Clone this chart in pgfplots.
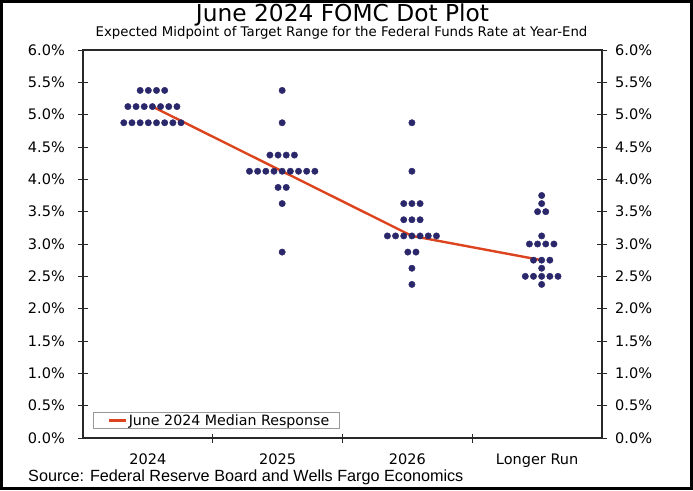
\documentclass[border=0pt]{standalone}
\usepackage{pgfplots}
\pgfplotsset{compat=1.18}
\usepackage{fontspec}
\setmainfont{DejaVu Sans}
\newfontfamily\arialf{Liberation Sans}
\definecolor{dotc}{RGB}{43,39,107}
\definecolor{linec}{RGB}{220,68,32}
\definecolor{axc}{RGB}{40,40,40}
\pgfplotsset{shortline/.style={legend image code/.code={\path (-6pt,0pt); \draw[##1] (0pt,0pt) -- (17pt,0pt);}}}
\begin{document}
\begin{tikzpicture}
\useasboundingbox (0pt,0pt) rectangle (693pt,490pt);
\draw[line width=2.6pt,black] (1.3pt,1.3pt) rectangle (691.7pt,488.7pt);
\node[anchor=base,font=\fontsize{23.3}{27}\selectfont] at (342.5pt,468pt) {June 2024 FOMC Dot Plot};
\node[anchor=base,font=\fontsize{13.3}{16}\selectfont] at (341.5pt,453pt) {Expected Midpoint of Target Range for the Federal Funds Rate at Year-End};
\node[anchor=base west,inner sep=0pt,font=\arialf\fontsize{16.2}{19}\selectfont] at (28pt,9pt) {Source: Federal Reserve Board and Wells Fargo Economics};
\begin{axis}[
  at={(83pt,52pt)}, anchor=south west,
  scale only axis, width=519pt, height=388pt,
  xmin=-0.5, xmax=3.5, ymin=0, ymax=6,
  axis line style={axc, line width=1.1pt},
  xtick={0,1,2,3},
  xticklabels={2024,2025,2026,Longer Run},
  minor xtick={0.5,1.5,2.5},
  major x tick style={draw=none},
  xtick pos=left,
  tick align=center,
  major tick length=10pt, minor tick length=9pt,
  tick style={axc, line width=0.8pt},
  xticklabel style={anchor=base, yshift=-21pt, inner sep=0pt, font=\fontsize{14.5}{17}\selectfont},
  ytick={0,0.5,1,1.5,2,2.5,3,3.5,4,4.5,5,5.5,6},
  yticklabels={0.0\%,0.5\%,1.0\%,1.5\%,2.0\%,2.5\%,3.0\%,3.5\%,4.0\%,4.5\%,5.0\%,5.5\%,6.0\%},
  ytick pos=both,
  yticklabel pos=left,
  yticklabel style={anchor=east, inner sep=0pt, xshift=-13pt, font=\fontsize{14.5}{17}\selectfont},
  legend style={at={(0,0)}, anchor=south west, xshift=10pt, yshift=9pt,
    draw=gray!80, line width=0.8pt, font=\fontsize{14.2}{16}\selectfont,
    inner xsep=8pt, inner ysep=0pt, row sep=0pt},
  legend cell align=left,
  clip=false,
]
\addplot[only marks, mark=*, mark size=3.2pt, color=dotc, forget plot] coordinates {
(-0.0595,5.375) (0.0035,5.375) (0.0665,5.375) (0.1295,5.375)
(-0.154,5.125) (-0.091,5.125) (-0.028,5.125) (0.035,5.125) (0.098,5.125) (0.161,5.125) (0.224,5.125)
(-0.1855,4.875) (-0.1225,4.875) (-0.0595,4.875) (0.0035,4.875) (0.0665,4.875) (0.1295,4.875) (0.1925,4.875) (0.2555,4.875)
(1.035,5.375)
(1.035,4.875)
(0.9405,4.375) (1.0035,4.375) (1.0665,4.375) (1.1295,4.375)
(0.783,4.125) (0.846,4.125) (0.909,4.125) (0.972,4.125) (1.035,4.125) (1.098,4.125) (1.161,4.125) (1.224,4.125) (1.287,4.125)
(1.0035,3.875) (1.0665,3.875)
(1.035,3.625)
(1.035,2.875)
(2.035,4.875)
(2.035,4.125)
(1.972,3.625) (2.035,3.625) (2.098,3.625)
(1.972,3.375) (2.035,3.375) (2.098,3.375)
(1.846,3.125) (1.909,3.125) (1.972,3.125) (2.035,3.125) (2.098,3.125) (2.161,3.125) (2.224,3.125)
(2.0035,2.875) (2.0665,2.875)
(2.035,2.625)
(2.035,2.375)
(3.035,3.75)
(3.035,3.625)
(3.0035,3.5) (3.0665,3.5)
(3.035,3.125)
(2.9405,3.0) (3.0035,3.0) (3.0665,3.0) (3.1295,3.0)
(2.972,2.75) (3.035,2.75) (3.098,2.75)
(3.035,2.625)
(2.909,2.5) (2.972,2.5) (3.035,2.5) (3.098,2.5) (3.161,2.5)
(3.035,2.375)
};
\addplot[color=linec, line width=2.4pt, no marks, shortline]
  coordinates {(0.035,5.125) (1.035,4.125) (2.035,3.125) (3.035,2.75)};
\addlegendentry{June 2024 Median Response}
\end{axis}
\begin{axis}[
  at={(83pt,52pt)}, anchor=south west,
  scale only axis, width=519pt, height=388pt,
  xmin=-0.5, xmax=3.5, ymin=0, ymax=6,
  hide x axis,
  axis line style={draw=none},
  tick style={draw=none},
  ytick={0,0.5,1,1.5,2,2.5,3,3.5,4,4.5,5,5.5,6},
  yticklabels={0.0\%,0.5\%,1.0\%,1.5\%,2.0\%,2.5\%,3.0\%,3.5\%,4.0\%,4.5\%,5.0\%,5.5\%,6.0\%},
  yticklabel pos=right,
  yticklabel style={anchor=west, inner sep=0pt, xshift=13pt, font=\fontsize{14.5}{17}\selectfont},
]
\end{axis}
\end{tikzpicture}
\end{document}
